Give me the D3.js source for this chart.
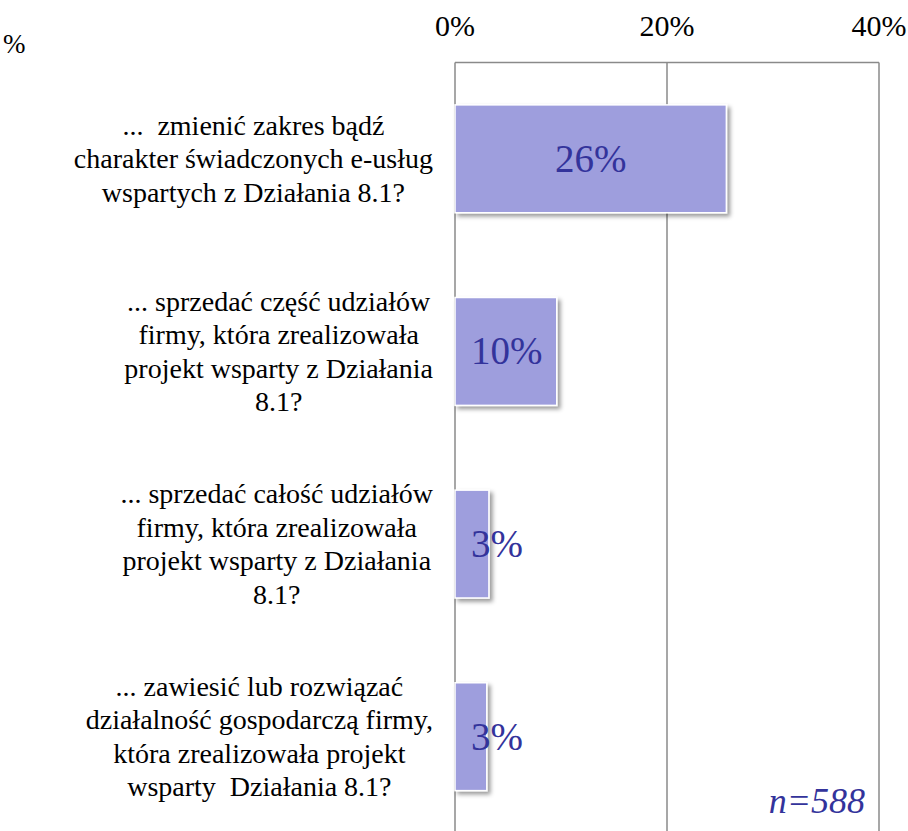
<!DOCTYPE html>
<html><head><meta charset="utf-8">
<script src="https://cdn.jsdelivr.net/npm/d3@7"></script>
</head>
<body style="margin:0">
<svg id="chart" width="908" height="831" style="display:block"></svg>
<script>
const categories = [
  ["...  zmienić zakres bądź", "charakter świadczonych e-usług", "wspartych z Działania 8.1?"],
  ["... sprzedać część udziałów", "firmy, która zrealizowała", "projekt wsparty z Działania", "8.1?"],
  ["... sprzedać całość udziałów", "firmy, która zrealizowała", "projekt wsparty z Działania", "8.1?"],
  ["... zawiesić lub rozwiązać", "działalność gospodarczą firmy,", "która zrealizowała projekt", "wsparty  Działania 8.1?"]
];
const values = [25.6, 9.6, 3.2, 3.0];
const valueLabels = ["26%", "10%", "3%", "3%"];
const tickValues = [0, 20, 40];
const tickLabels = ["0%", "20%", "40%"];
const sampleNote = "n=588";

const SERIF = "'Liberation Serif'";

function draw() {
  const svg = d3.select("#chart");
  svg.selectAll("*").remove();
  const plotLeft = 455, plotRight = 879, plotTop = 62.5, plotBottom = 833;

  const x = d3.scaleLinear().domain([0, 40]).range([plotLeft, plotRight]);
  const y = d3.scaleBand().domain(d3.range(categories.length)).range([plotTop, plotBottom]).paddingInner(0.44).paddingOuter(0.22);

  const defs = svg.append("defs");
  const f = defs.append("filter").attr("id", "shadow").attr("x", "-20%").attr("y", "-20%").attr("width", "150%").attr("height", "150%");
  f.append("feDropShadow").attr("dx", 3).attr("dy", 3).attr("stdDeviation", 2.2).attr("flood-color", "#000").attr("flood-opacity", 0.4);

  const txt = sel => sel.style("font-family", SERIF);

  svg.append("g").selectAll("line").data(tickValues).join("line")
    .attr("x1", d => x(d)).attr("x2", d => x(d))
    .attr("y1", plotTop).attr("y2", 831)
    .attr("stroke", "#8a8a8a").attr("stroke-width", 1.5);
  svg.append("line").attr("x1", plotLeft).attr("x2", plotRight).attr("y1", plotTop).attr("y2", plotTop)
    .attr("stroke", "#8a8a8a").attr("stroke-width", 1.5);

  svg.append("g").selectAll("text").data(tickValues).join("text")
    .call(txt)
    .attr("x", d => x(d)).attr("y", 36)
    .attr("text-anchor", "middle").attr("font-size", 30).attr("fill", "#000")
    .text((d, i) => tickLabels[i]);

  svg.append("text").call(txt).attr("x", 3).attr("y", 53)
    .attr("font-size", 27).attr("fill", "#000").text("%");

  svg.append("g").selectAll("rect").data(values).join("rect")
    .attr("x", x(0)).attr("y", (d, i) => y(i))
    .attr("width", d => x(d) - x(0)).attr("height", y.bandwidth())
    .attr("fill", "#9e9edd").attr("stroke", "#fff").attr("stroke-width", 1.5)
    .attr("filter", "url(#shadow)");

  const vl = svg.append("g").selectAll("text").data(values).join("text")
    .call(txt)
    .attr("y", (d, i) => y(i) + y.bandwidth() / 2 + 13)
    .attr("text-anchor", "middle").attr("font-size", 39).attr("fill", "#33339b")
    .text((d, i) => valueLabels[i]);
  vl.each(function(d) {
    const w = this.getComputedTextLength();
    const cx = Math.max((x(0) + x(d)) / 2, x(0) + 16 + w / 2);
    d3.select(this).attr("x", cx);
  });

  const lineH = 33.5;
  categories.forEach((lines, i) => {
    const g = svg.append("g");
    const cy = y(i) + y.bandwidth() / 2;
    const t = g.selectAll("text").data(lines).join("text")
      .call(txt).style("white-space", "pre")
      .attr("font-size", 28).attr("fill", "#000").attr("text-anchor", "middle")
      .attr("y", (d, j) => cy + 9.5 + (j - (lines.length - 1) / 2) * lineH)
      .text(d => d);
    let maxW = 0;
    t.each(function() { maxW = Math.max(maxW, this.getComputedTextLength()); });
    t.attr("x", 433 - maxW / 2);
  });

  svg.append("text").call(txt).attr("x", 865).attr("y", 813).attr("text-anchor", "end")
    .attr("font-size", 36).attr("font-style", "italic").attr("fill", "#33339b")
    .text(sampleNote);
}

draw();
if (document.fonts) {
  Promise.all([
    document.fonts.load("28px 'Liberation Serif'"),
    document.fonts.load("italic 36px 'Liberation Serif'")
  ]).then(() => document.fonts.ready).then(draw).catch(() => {});
}
</script>
</body></html>
